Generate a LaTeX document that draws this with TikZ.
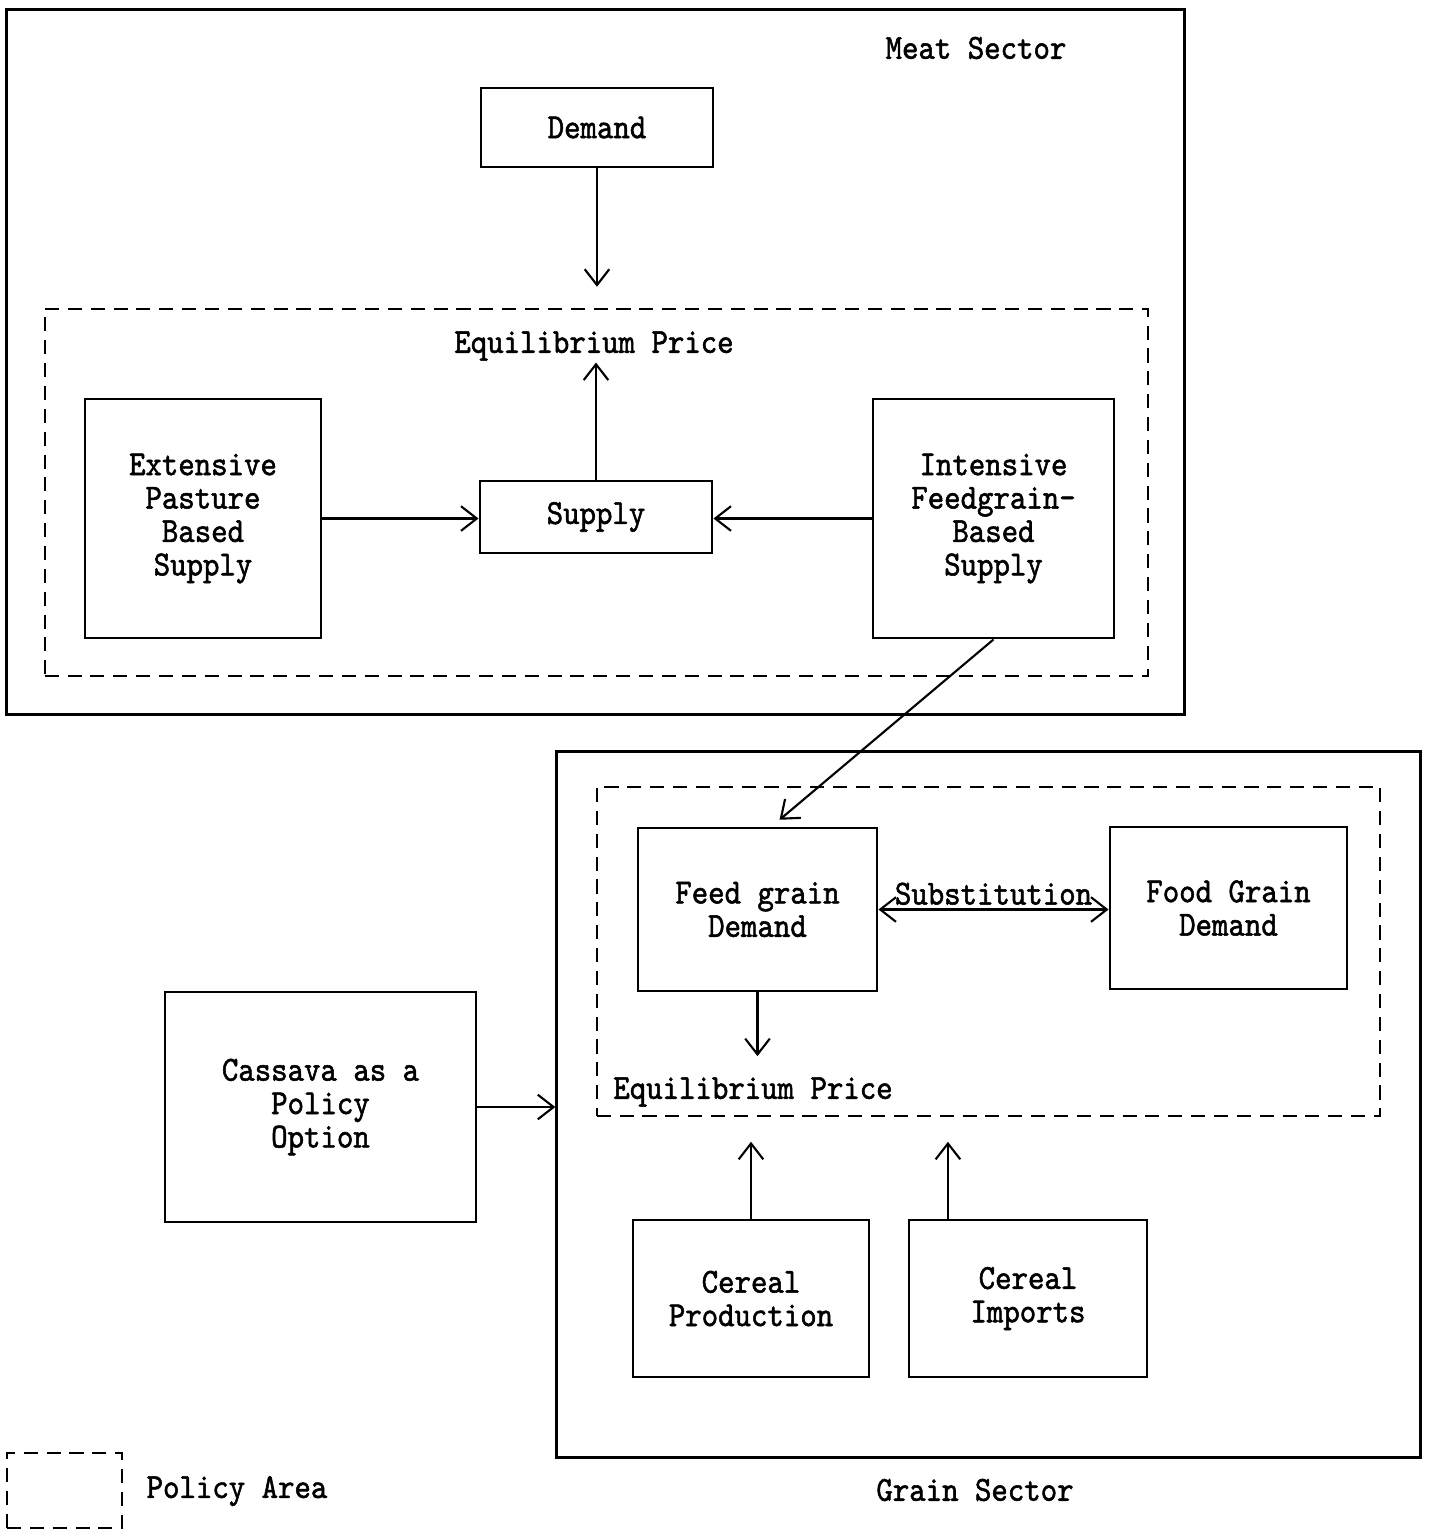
\documentclass[tikz,border=0pt]{standalone}
\usepackage{fontspec}
\setmonofont{Latin Modern Mono}[FakeStretch=0.89,FakeBold=1.5]
\usetikzlibrary{arrows.meta}

\begin{document}
\begin{tikzpicture}[
			x=0.01cm, y=-0.01cm,
			font=\ttfamily\fontsize{10}{9.5}\selectfont,
			>={Straight Barb[length=4.5pt,width=7pt]},
			box/.style={draw, thick, rectangle, align=center, inner sep=2pt},
			sectorbox/.style={draw, thick, rectangle},
			policybox/.style={draw, semithick, dash pattern=on 4pt off 2.5pt, rectangle},
			line/.style={draw, semithick}
			]
			\useasboundingbox (0,0) rectangle (1432,1532);
			
			% Meat sector
			\node[sectorbox, minimum width=11.77cm, minimum height=7.04cm] (meat) at (595.5,362) {};
			\node (meatlabel) at (976,48) {Meat Sector};
			\node[policybox, minimum width=11.03cm, minimum height=3.67cm] (meatpolicy) at (596.5,492.5) {};
			\node[box, minimum width=2.32cm, minimum height=0.79cm] (demand) at (597,127.5) {Demand};
			\node (meatprice) at (594,346) {Equilibrium Price};
			\node[box, minimum width=2.36cm, minimum height=2.39cm] (extensive) at (203,518.5) {Extensive\\Pasture\\Based\\Supply};
			\node[box, minimum width=2.32cm, minimum height=0.72cm] (supply) at (596,517) {Supply};
			\node[box, minimum width=2.41cm, minimum height=2.39cm] (intensive) at (993.5,518.5) {Intensive\\Feedgrain-\\Based\\Supply};
			
			\draw[line, ->, shorten >=6pt] (demand.south) -- (demand.south |- meatpolicy.north);
			\draw[line, ->, shorten >=-3pt] (supply.north) -- (supply.north |- meatprice.south);
			\draw[line, ->] (extensive.east) -- (extensive.east -| supply.west);
			\draw[line, ->] (intensive.west) -- (intensive.west -| supply.east);
			
			% Grain sector
			\node[sectorbox, minimum width=8.63cm, minimum height=7.05cm] (grain) at (988.5,1104.5) {};
			\node (grainlabel) at (975,1490) {Grain Sector};
			\node[policybox, minimum width=7.83cm, minimum height=3.29cm] (grainpolicy) at (988.5,951.5) {};
			\node[box, minimum width=2.39cm, minimum height=1.63cm] (feed) at (757.5,909.5) {Feed grain\\Demand};
			\node[box, minimum width=2.37cm, minimum height=1.62cm] (food) at (1228.5,908) {Food Grain\\Demand};
			\node (grainprice) at (753,1092) {Equilibrium Price};
			\node[box, minimum width=2.36cm, minimum height=1.57cm] (production) at (751,1298.5) {Cereal\\Production};
			\node[box, minimum width=2.38cm, minimum height=1.57cm] (imports) at (1028,1298.5) {Cereal\\Imports};
			\node[box, minimum width=3.11cm, minimum height=2.30cm] (cassava) at (320.5,1107) {Cassava as a\\Policy\\Option};
			
			\draw[line, <->] (feed.east) -- (feed.east -| food.west) node[midway, above, inner sep=1pt] (subst) {Substitution};
			\draw[line, ->, shorten >=2.5pt] (feed.south) -- (feed.south |- grainprice.north);
			\draw[line, ->, shorten >=7pt] (production.north) -- (production.north |- grainpolicy.south);
			\draw[line, ->, shorten >=7pt] ([xshift=-0.8cm]imports.north) -- ([xshift=-0.8cm]imports.north |- grainpolicy.south);
			\draw[line, ->] (cassava.east) -- (cassava.east -| grain.west);
			
			% Feedgrain link between sectors
			\draw[line, ->, shorten >=3pt] (intensive.south) -- ([xshift=0.14cm]feed.north);
			
			% Legend
			\node[policybox, minimum width=1.15cm, minimum height=0.75cm] (legend) at (64.5,1490.5) {};
			\node (legendlabel) at (237,1491) {Policy Area};
			
		\end{tikzpicture}
\end{document}
